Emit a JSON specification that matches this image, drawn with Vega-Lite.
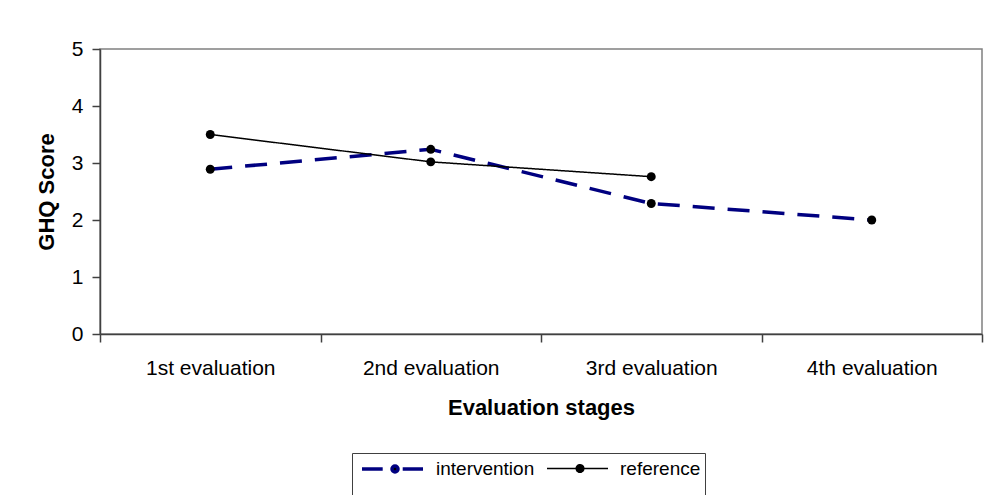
{
  "$schema": "https://vega.github.io/schema/vega-lite/v6.json",
  "width": 882,
  "height": 285,
  "autosize": "none",
  "padding": {"left": 100, "top": 49, "right": 2, "bottom": 161},
  "background": "white",
  "config": {
    "font": "Liberation Sans",
    "view": {"stroke": "#808080", "strokeWidth": 1.5}
  },
  "data": {
    "values": [
      {"stage": "1st evaluation", "series": "intervention", "score": 2.89},
      {"stage": "2nd evaluation", "series": "intervention", "score": 3.24},
      {"stage": "3rd evaluation", "series": "intervention", "score": 2.29},
      {"stage": "4th evaluation", "series": "intervention", "score": 2.0},
      {"stage": "1st evaluation", "series": "reference", "score": 3.5},
      {"stage": "2nd evaluation", "series": "reference", "score": 3.02},
      {"stage": "3rd evaluation", "series": "reference", "score": 2.76}
    ]
  },
  "encoding": {
    "x": {
      "field": "stage",
      "type": "ordinal",
      "sort": ["1st evaluation", "2nd evaluation", "3rd evaluation", "4th evaluation"],
      "scale": {"type": "band", "paddingInner": 0, "paddingOuter": 0},
      "axis": {
        "title": "Evaluation stages",
        "titleFont": "Liberation Sans",
        "titleFontSize": 22,
        "titleFontWeight": "bold",
        "titleColor": "black",
        "titleBaseline": "alphabetic",
        "titleX": 441,
        "titleY": 80,
        "labelFont": "Liberation Sans",
        "labelFontSize": 21,
        "labelColor": "black",
        "labelAngle": 0,
        "labelPadding": 15,
        "labelBaseline": "top",
        "tickBand": "extent",
        "tickSize": 8,
        "tickColor": "#404040",
        "tickWidth": 1.5,
        "domainColor": "#404040",
        "domainWidth": 1.5,
        "grid": false
      }
    },
    "y": {
      "field": "score",
      "type": "quantitative",
      "scale": {"domain": [0, 5], "nice": false, "zero": true},
      "axis": {
        "title": "GHQ Score",
        "titleFont": "Liberation Sans",
        "titleFontSize": 22,
        "titleFontWeight": "bold",
        "titleColor": "black",
        "titleAngle": -90,
        "titleAlign": "center",
        "titleBaseline": "middle",
        "titleX": -54,
        "titleY": 142.5,
        "values": [0, 1, 2, 3, 4, 5],
        "labelFont": "Liberation Sans",
        "labelFontSize": 21,
        "labelColor": "black",
        "labelPadding": 9,
        "tickSize": 8,
        "tickColor": "#404040",
        "tickWidth": 1.5,
        "domainColor": "#404040",
        "domainWidth": 1.5,
        "grid": false
      }
    }
  },
  "layer": [
    {
      "mark": {"type": "line"},
      "encoding": {
        "color": {
          "field": "series",
          "type": "nominal",
          "scale": {"domain": ["intervention", "reference"], "range": ["#000080", "#000000"]},
          "legend": {
            "title": " ",
            "titleOrient": "bottom",
            "titleFontSize": 20,
            "titlePadding": 4,
            "orient": "none",
            "legendX": 252,
            "legendY": 404,
            "direction": "horizontal",
            "strokeColor": "#404040",
            "fillColor": "white",
            "padding": 4,
            "labelFont": "Liberation Sans",
            "labelFontSize": 19,
            "labelColor": "black",
            "labelOffset": 56,
            "columnPadding": 7,
            "symbolSize": 400,
            "symbolType": "M-1,0H1",
            "encode": {
              "symbols": {
                "update": {
                  "shape": {"signal": "datum.value === 'intervention' ? 'M-0.6,0H1.47M3.47,0H5.5M2.4,0A0.3,0.3 0 1,1 3.0,0A0.3,0.3 0 1,1 2.4,0Z' : 'M-0.6,0H5.5M2.32,0A0.38,0.38 0 1,1 3.08,0A0.38,0.38 0 1,1 2.32,0Z'"},
                  "fill": {"value": "black"},
                  "fillOpacity": {"value": 1},
                  "opacity": {"value": 1},
                  "strokeWidth": {"signal": "datum.value === 'intervention' ? 3.5 : 1.5"},
                  "strokeDash": {"value": []}
                }
              }
            }
          }
        },
        "strokeDash": {
          "field": "series",
          "type": "nominal",
          "scale": {"domain": ["intervention", "reference"], "range": [[22, 13], [1, 0]]},
          "legend": null
        },
        "strokeWidth": {
          "field": "series",
          "type": "nominal",
          "scale": {"domain": ["intervention", "reference"], "range": [3.5, 1.5]},
          "legend": null
        }
      }
    },
    {
      "mark": {"type": "point", "filled": true, "size": 80, "color": "black", "opacity": 1}
    }
  ]
}
